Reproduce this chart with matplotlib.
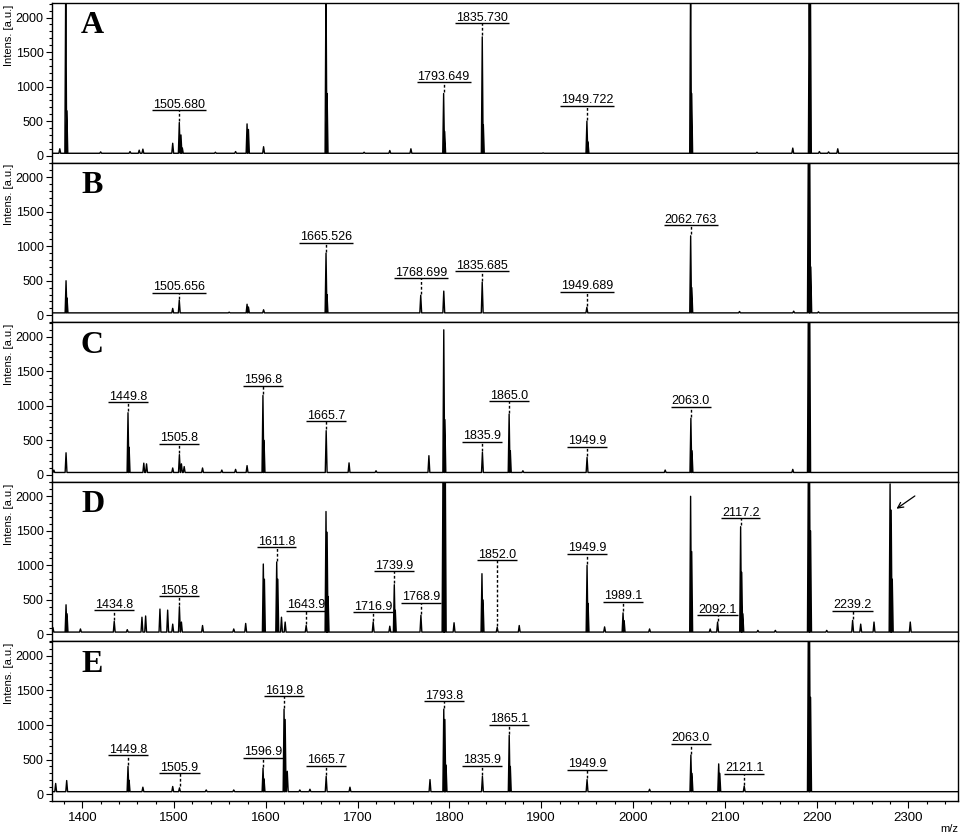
import numpy as np
import matplotlib
matplotlib.use("Agg")
import matplotlib.pyplot as plt
from matplotlib.ticker import MultipleLocator

plt.rcParams["font.family"] = ["Liberation Sans", "DejaVu Sans"]

# peak lists: m/z and intensity [a.u.]
# (tall peaks that run off the top of a panel are given 2600)
a_mz = [1375.5, 1382.0, 1383.2, 1420, 1452, 1462, 1466, 1498.5, 1505.68, 1507.5,
        1509, 1545, 1567, 1579.5, 1581, 1597.5, 1665.5, 1666.7, 1707, 1735, 1758,
        1793.649, 1794.8, 1835.73, 1836.9, 1902, 1949.722, 1950.9, 2062.7, 2063.9,
        2135, 2174, 2192.0, 2193.2, 2203, 2213, 2223]
a_int = [100, 2600, 650, 55, 60, 80, 95, 180, 480, 300,
         110, 50, 60, 460, 380, 130, 2600, 900, 50, 75, 100,
         900, 350, 1720, 450, 40, 500, 200, 2600, 900,
         50, 110, 2600, 2600, 60, 55, 100]
a_labels = ["1505.680", "1793.649", "1835.730", "1949.722"]
a_levels = [660, 1065, 1920, 720]

b_mz = [1382.3, 1383.4, 1498.5, 1505.656, 1560, 1579.5, 1581, 1597.5, 1665.526,
        1666.6, 1768.699, 1793.8, 1835.685, 1949.689, 2062.763, 2064.0, 2116, 2175,
        2191.0, 2192.4, 2193.6, 2202]
b_int = [500, 250, 100, 220, 45, 160, 120, 80, 900,
         300, 290, 350, 480, 115, 1150, 400, 55, 60,
         2600, 2600, 700, 50]
b_labels = ["1505.656", "1665.526", "1768.699", "1835.685", "1949.689", "2062.763"]
b_levels = [323, 1049, 536, 636, 338, 1306]

c_mz = [1369, 1382.3, 1449.8, 1451.0, 1467, 1470, 1498.5, 1505.8, 1508, 1511,
        1531, 1552, 1567, 1579.5, 1596.8, 1598.0, 1665.7, 1690.6, 1720, 1777.6,
        1793.8, 1795.0, 1835.9, 1865.0, 1866.3, 1880, 1949.9, 2035, 2063.0, 2064.2,
        2174, 2191.0, 2192.4]
c_int = [70, 320, 900, 400, 170, 160, 100, 293, 160, 120,
         100, 70, 80, 134, 1150, 500, 640, 174, 60, 278,
         2100, 800, 327, 880, 350, 60, 253, 70, 820, 350,
         80, 2600, 2600]
c_labels = ["1449.8", "1505.8", "1596.8", "1665.7", "1835.9", "1865.0", "1949.9", "2063.0"]
c_levels = [1053, 453, 1287, 775, 482, 1063, 408, 989]

d_mz = [1368, 1382.3, 1383.4, 1398, 1434.8, 1449, 1465, 1469, 1484.6, 1493,
        1498.5, 1505.8, 1508, 1531, 1565, 1578, 1597.2, 1598.4, 1611.8, 1613.0,
        1617, 1621, 1643.9, 1665.5, 1666.7, 1667.8, 1716.9, 1735, 1739.9, 1741.0,
        1768.9, 1793.0, 1794.2, 1795.4, 1805, 1835.4, 1836.6, 1852.0, 1876, 1949.9,
        1951.0, 1969, 1989.1, 1990.3, 2018, 2062.7, 2063.9, 2084, 2092.1, 2117.2,
        2118.4, 2119.6, 2136, 2155, 2191.0, 2192.2, 2193.4, 2211, 2239.2, 2248,
        2262.5, 2280.0, 2281.2, 2282.4, 2302]
d_int = [100, 430, 300, 80, 190, 70, 250, 268, 368, 353,
         150, 402, 180, 130, 80, 160, 1020, 800, 1050, 800,
         250, 180, 130, 1780, 1480, 550, 180, 120, 720, 350,
         278, 2600, 2600, 2600, 170, 880, 500, 104, 130, 1000,
         450, 110, 313, 200, 80, 2000, 1200, 80, 180, 1560,
         900, 300, 60, 60, 2600, 2600, 1500, 60, 204, 150,
         180, 2180, 1800, 800, 180]
d_labels = ["1434.8", "1505.8", "1611.8", "1643.9", "1716.9", "1739.9", "1768.9",
            "1852.0", "1949.9", "1989.1", "2092.1", "2117.2", "2239.2"]
d_levels = [350, 551, 1262, 342, 320, 915, 457, 1072, 1172, 477, 280, 1683, 342]

e_mz = [1371, 1383, 1449.8, 1451.0, 1466, 1498.5, 1505.9, 1535, 1565, 1596.9,
        1598.0, 1619.8, 1621.0, 1623.3, 1637, 1648, 1665.7, 1691.6, 1778.8, 1793.8,
        1795.0, 1796.3, 1835.9, 1865.1, 1866.3, 1949.9, 2018, 2063.0, 2064.2, 2093.3,
        2094.5, 2121.1, 2191.0, 2192.2, 2193.4]
e_int = [154, 196, 400, 200, 100, 110, 90, 60, 60, 376,
         220, 1230, 1080, 330, 60, 70, 257, 100, 210, 1230,
         1080, 420, 257, 850, 400, 210, 70, 565, 300, 437,
         300, 115, 2600, 2600, 1400]
e_labels = ["1449.8", "1505.9", "1596.9", "1619.8", "1665.7", "1793.8", "1835.9",
            "1865.1", "1949.9", "2063.0", "2121.1"]
e_levels = [565, 305, 527, 1417, 409, 1346, 413, 1006, 352, 731, 296]

panel_names = ["A", "B", "C", "D", "E"]

XMIN, XMAX = 1367, 2354
BASE = 35


def profile(mz, inten, half=1.0):
    order = np.argsort(mz)
    xs, ys = [XMIN], [BASE]
    for m, h in zip(np.asarray(mz, float)[order], np.asarray(inten, float)[order]):
        xs += [m - half, m, m + half]
        ys += [BASE, h, BASE]
    xs.append(XMAX)
    ys.append(BASE)
    return xs, ys


def draw_panel(ax, name, mz, inten, labels, levels, pending):
    xs, ys = profile(mz, inten)
    ax.plot(xs, ys, color="black", lw=1.0)
    ax.set_xlim(XMIN, XMAX)
    ax.set_ylim(-100, 2210)
    mz_arr = np.asarray(mz, float)
    for lab, lev in zip(labels, levels):
        x = float(lab)
        top = inten[int(np.argmin(np.abs(mz_arr - x)))]
        ax.plot([x, x], [top + 20, lev], color="black", lw=1.0,
                ls=(0, (2, 1.5)))
        t = ax.annotate(lab, (x, lev), xytext=(0, 1.8), textcoords="offset points",
                        ha="center", va="baseline", fontsize=9)
        pending.append((ax, t, lev))
    ax.text(0.032, 0.81, name, transform=ax.transAxes, fontsize=23,
            fontweight="bold", family="Liberation Serif", va="baseline")
    ax.text(-0.0475, 0.99, "Intens. [a.u.]", transform=ax.transAxes,
            rotation=90, ha="center", va="top", fontsize=8)
    ax.yaxis.set_major_locator(MultipleLocator(500))
    ax.yaxis.set_minor_locator(MultipleLocator(100))
    ax.tick_params(axis="y", which="major", direction="out", length=4.5,
                   width=0.8, labelsize=9, pad=1.5)
    ax.tick_params(axis="y", which="minor", direction="out", length=2.5, width=0.8)
    for s in ax.spines.values():
        s.set_linewidth(1.0)


def main():
    fig = plt.figure(figsize=(9.61, 8.36), dpi=100)
    W, H = 961, 836
    left, right = 52, 958
    top0, ph = 3, 159.6
    data = [(a_mz, a_int, a_labels, a_levels),
            (b_mz, b_int, b_labels, b_levels),
            (c_mz, c_int, c_labels, c_levels),
            (d_mz, d_int, d_labels, d_levels),
            (e_mz, e_int, e_labels, e_levels)]
    pending = []
    axes = []
    for i, (name, (mz, inten, labs, levs)) in enumerate(zip(panel_names, data)):
        y_top = top0 + i * ph
        ax = fig.add_axes([left / W, 1 - (y_top + ph) / H, (right - left) / W, ph / H])
        draw_panel(ax, name, mz, inten, labs, levs, pending)
        if i < 4:
            ax.tick_params(axis="x", which="both", bottom=False, labelbottom=False)
        axes.append(ax)

    # arrow pointing at the unlabelled peak in D
    axes[3].annotate("", xy=(2287, 1820), xytext=(2307, 2005),
                     arrowprops=dict(arrowstyle="->", lw=0.9, color="black",
                                     shrinkA=0, shrinkB=0))

    ax_e = axes[4]
    ax_e.xaxis.set_major_locator(MultipleLocator(100))
    ax_e.xaxis.set_minor_locator(MultipleLocator(20))
    ax_e.tick_params(axis="x", which="major", direction="out", length=5,
                     width=0.8, labelsize=9.5, pad=3)
    ax_e.tick_params(axis="x", which="minor", direction="out", length=2.5, width=0.8)
    fig.text(949 / W, 1 - 829 / H, "m/z", ha="center", va="center", fontsize=8)

    # underline every peak label with a bar as wide as its text
    fig.canvas.draw()
    renderer = fig.canvas.get_renderer()
    for ax, t, lev in pending:
        bb = t.get_window_extent(renderer)
        inv = ax.transData.inverted()
        x0 = inv.transform((bb.x0 - 1, 0))[0]
        x1 = inv.transform((bb.x1 + 1, 0))[0]
        ax.plot([x0, x1], [lev, lev], color="black", lw=1.0, solid_capstyle="butt")

    fig.savefig("out.png", dpi=100)


if __name__ == "__main__":
    main()
